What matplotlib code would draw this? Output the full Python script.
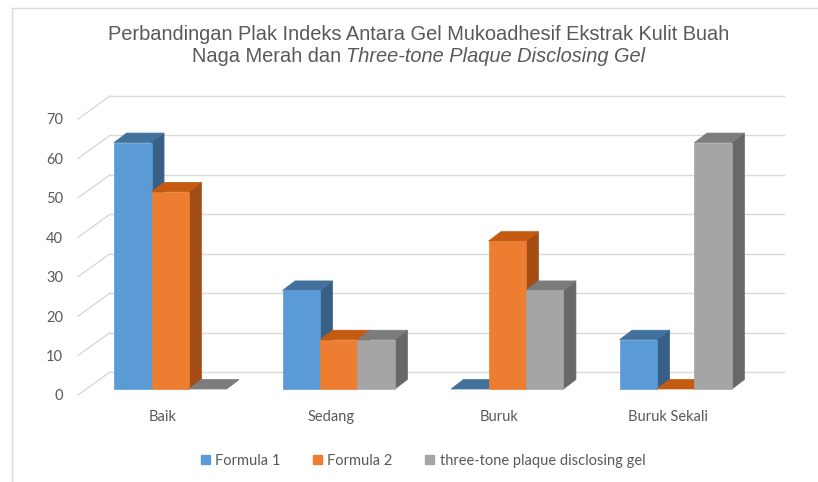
import matplotlib
matplotlib.use('Agg')
import matplotlib.pyplot as plt
from matplotlib.patches import Polygon, Rectangle
from matplotlib.lines import Line2D

# data
categories = ['Baik', 'Sedang', 'Buruk', 'Buruk Sekali']
series_names = ['Formula 1', 'Formula 2', 'three-tone plaque disclosing gel']
formula_1 = [62.5, 25, 0, 12.5]
formula_2 = [50, 12.5, 37.5, 0]
three_tone = [0, 12.5, 25, 62.5]
y_ticks = [0, 10, 20, 30, 40, 50, 60, 70]

# face colours: front, top, side
front_cols = ['#5b9bd5', '#ed7d31', '#a5a5a5']
top_cols = ['#41719c', '#c55a11', '#7c7c7c']
side_cols = ['#385f86', '#a34d15', '#686868']
grid_col = '#d9d9d9'
text_col = '#595959'

W, H = 818, 482
fig = plt.figure(figsize=(W / 100, H / 100), dpi=100)
ax = fig.add_axes([78 / W, 87 / H, 674 / W, 276 / H])
ax.set_xlim(-0.5, len(categories) - 0.5)
ax.set_ylim(0, 70)
for s in ax.spines.values():
    s.set_visible(False)
ax.patch.set_visible(False)

# pixel -> data offsets for the oblique 3d look
sx = 674 / len(categories)
sy = 276 / 70
def off(dx, dy):
    return dx / sx, dy / sy

wall = off(32, 23)
front = off(8, 6)
depth = off(12.5, 9.5)

# back wall + left wall gridlines
for v in y_ticks:
    ax.plot([-0.5 + wall[0], len(categories) - 0.5 + wall[0]], [v + wall[1]] * 2,
            color=grid_col, lw=1, clip_on=False, zorder=1)
    ax.plot([-0.5, -0.5 + wall[0]], [v, v + wall[1]],
            color=grid_col, lw=1, clip_on=False, zorder=1)

series = [formula_1, formula_2, three_tone]
bw = 1 / 4.5
z = 2
for i in range(len(categories)):
    for j, vals in enumerate(series):
        h = vals[i]
        x0 = i - 1.5 * bw + j * bw + front[0]
        x1 = x0 + bw
        y0 = front[1]
        y1 = h + front[1]
        dx, dy = depth
        side = [(x1, y0), (x1 + dx, y0 + dy), (x1 + dx, y1 + dy), (x1, y1)]
        top = [(x0, y1), (x1, y1), (x1 + dx, y1 + dy), (x0 + dx, y1 + dy)]
        ax.add_patch(Polygon(side, closed=True, fc=side_cols[j], ec=side_cols[j], lw=0.5, clip_on=False, zorder=z))
        ax.add_patch(Polygon(top, closed=True, fc=top_cols[j], ec=top_cols[j], lw=0.5, clip_on=False, zorder=z))
        if h > 0:
            ax.add_patch(Rectangle((x0, y0), bw, h, fc=front_cols[j], ec=front_cols[j], lw=0.5, clip_on=False, zorder=z))
        z += 1

lab_font = 'Lato'
ax.set_yticks(y_ticks)
ax.set_xticks(range(len(categories)))
ax.set_xticklabels(categories)
ax.tick_params(axis='y', length=0, pad=10.8, labelcolor=text_col, labelsize=10.5)
ax.tick_params(axis='x', length=0, pad=11, labelcolor=text_col, labelsize=10.5)
for t in ax.get_xticklabels() + ax.get_yticklabels():
    t.set_fontfamily(lab_font)

# title
title_kw = dict(fontsize=14.4, color=text_col, family='Liberation Sans', va='center')
fig.text(419 / W, 1 - 35 / H, 'Perbandingan Plak Indeks Antara Gel Mukoadhesif Ekstrak Kulit Buah',
         ha='center', **title_kw)
ta = fig.text(0, 1 - 57 / H, 'Naga Merah dan', ha='left', **title_kw)
tb = fig.text(0, 1 - 57 / H, 'Three-tone Plaque Disclosing Gel', ha='left', style='italic', **title_kw)
r = fig.canvas.get_renderer()
wa = ta.get_window_extent(r).width
wb = tb.get_window_extent(r).width
gap = 5
start = 419 - (wa + gap + wb) / 2
ta.set_x(start / W)
tb.set_x((start + wa + gap) / W)

# legend
handles = [Rectangle((0, 0), 1, 1, color=c) for c in front_cols]
fig.legend(handles, series_names, loc='center', bbox_to_anchor=(423 / W, 1 - 461 / H),
           ncol=3, frameon=False, handlelength=0.6, handleheight=0.6, handletextpad=0.4,
           columnspacing=2.2, labelcolor=text_col, prop={'family': lab_font, 'size': 10.5})

# chart frame (cut off at right/bottom)
fig.add_artist(Line2D([12 / W, 12 / W], [0, 1 - 8 / H], transform=fig.transFigure, color=grid_col, lw=1))
fig.add_artist(Line2D([12 / W, 1], [1 - 8 / H, 1 - 8 / H], transform=fig.transFigure, color=grid_col, lw=1))

fig.savefig('out.png', dpi=100)
